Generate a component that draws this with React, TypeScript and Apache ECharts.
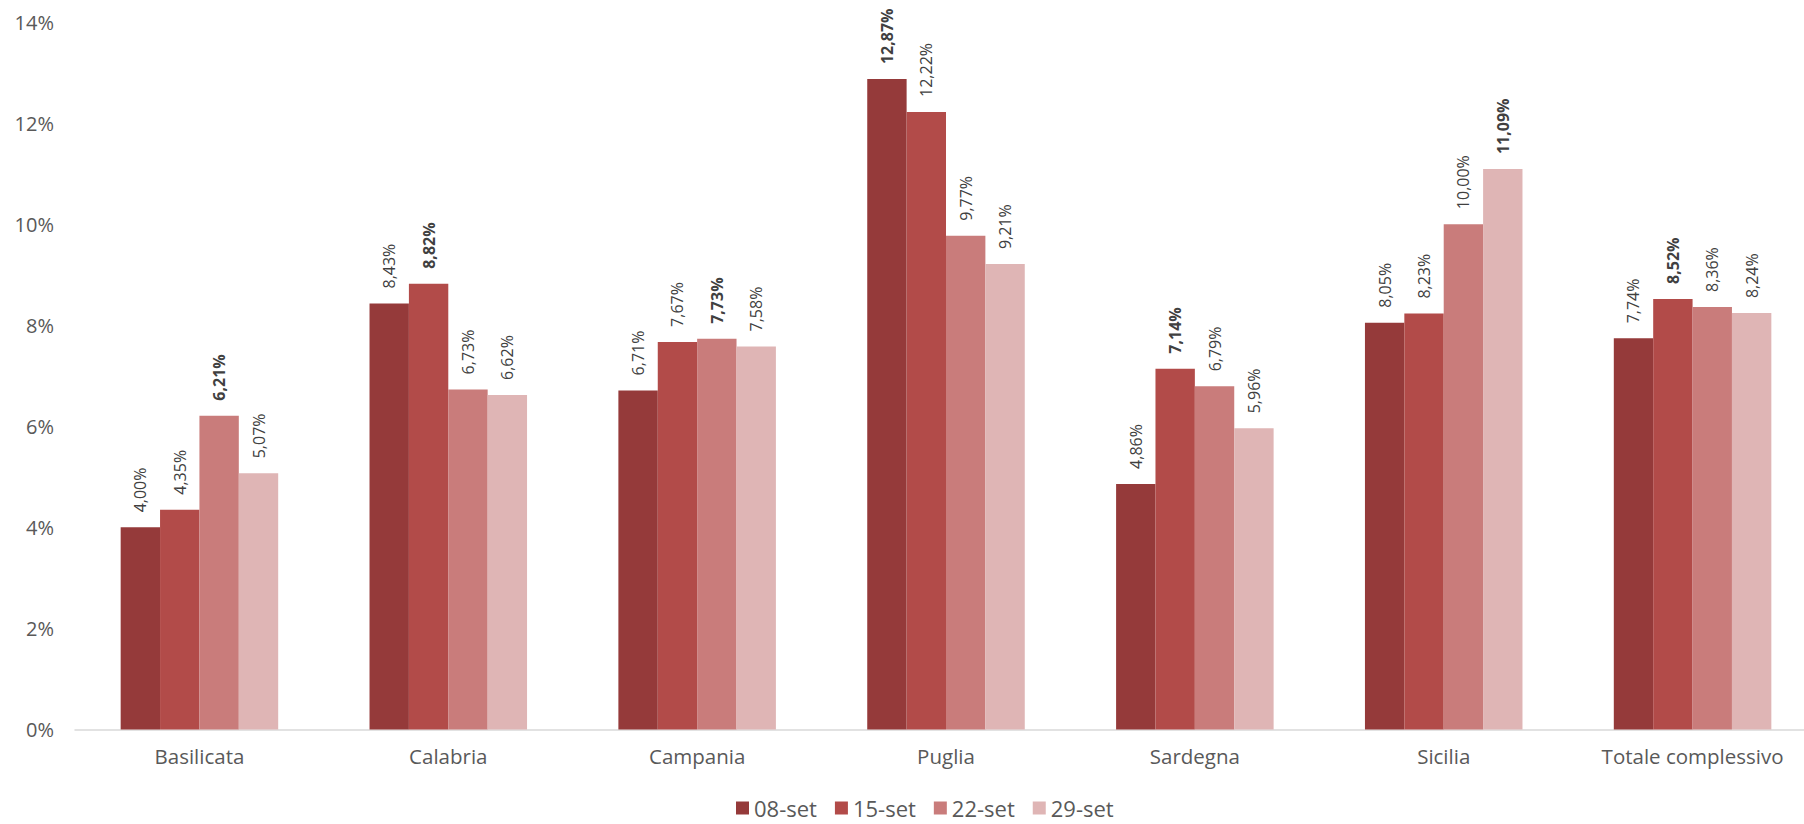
import React, { useEffect, useRef } from "react";
import * as echarts from "echarts";

const categories = ["Basilicata", "Calabria", "Campania", "Puglia", "Sardegna", "Sicilia", "Totale complessivo"];
const seriesNames = ["08-set", "15-set", "22-set", "29-set"];
const s08 = [4.0, 8.43, 6.71, 12.87, 4.86, 8.05, 7.74];
const s15 = [4.35, 8.82, 7.67, 12.22, 7.14, 8.23, 8.52];
const s22 = [6.21, 6.73, 7.73, 9.77, 6.79, 10.0, 8.36];
const s29 = [5.07, 6.62, 7.58, 9.21, 5.96, 11.09, 8.24];
const colors = ["#953A3A", "#B24B49", "#C97C7B", "#DFB5B5"];
const yTicks = { min: 0, max: 14, interval: 2 };

const FONT = "'Open Sans', sans-serif";

export default function App() {
  const ref = useRef<HTMLDivElement>(null);
  useEffect(() => {
    if (!ref.current) return;
    const chart = echarts.init(ref.current, null, { renderer: "svg" });
    const all = [s08, s15, s22, s29];
    const maxes = categories.map((_, i) => Math.max(...all.map((s) => s[i])));
    const series = all.map((vals, si) => ({
      name: seriesNames[si],
      type: "bar",
      barGap: "0%",
      barCategoryGap: "36.7%",
      itemStyle: { color: colors[si] },
      data: vals.map((v, i) => ({
        value: v,
        label: v === maxes[i] ? { fontWeight: "bold" } : undefined,
      })),
      label: {
        show: true,
        position: "top",
        rotate: 90,
        align: "left",
        verticalAlign: "middle",
        distance: 15,
        fontFamily: FONT,
        fontSize: 16,
        color: "#404040",
        formatter: (p: any) => p.value.toFixed(2).replace(".", ",") + "%",
      },
    }));
    chart.setOption({
      animation: false,
      backgroundColor: "#ffffff",
      textStyle: { fontFamily: FONT },
      grid: { left: 75, right: 0, top: 22, bottom: 94.5, containLabel: false },
      legend: {
        bottom: 0,
        left: 731,
        icon: "rect",
        itemWidth: 13,
        itemHeight: 13,
        itemGap: 18,
        textStyle: { fontFamily: FONT, fontSize: 22, color: "#595959" },
        data: seriesNames,
      },
      xAxis: {
        type: "category",
        data: categories,
        axisLine: { show: true, lineStyle: { color: "#D9D9D9", width: 1.5 } },
        axisTick: { show: false },
        axisLabel: { fontFamily: FONT, fontSize: 20.5, color: "#595959", margin: 16 },
      },
      yAxis: {
        type: "value",
        min: yTicks.min,
        max: yTicks.max,
        interval: yTicks.interval,
        axisLine: { show: false },
        axisTick: { show: false },
        splitLine: { show: false },
        axisLabel: { fontFamily: FONT, fontSize: 20, color: "#595959", margin: 21, formatter: "{value}%" },
      },
      series,
    });
    return () => chart.dispose();
  }, []);
  return (
    <div style={{ position: "absolute", left: 0, top: 0, width: 1804, height: 824, overflow: "hidden" }}>
      <div ref={ref} style={{ width: 1817, height: 824 }} />
    </div>
  );
}
